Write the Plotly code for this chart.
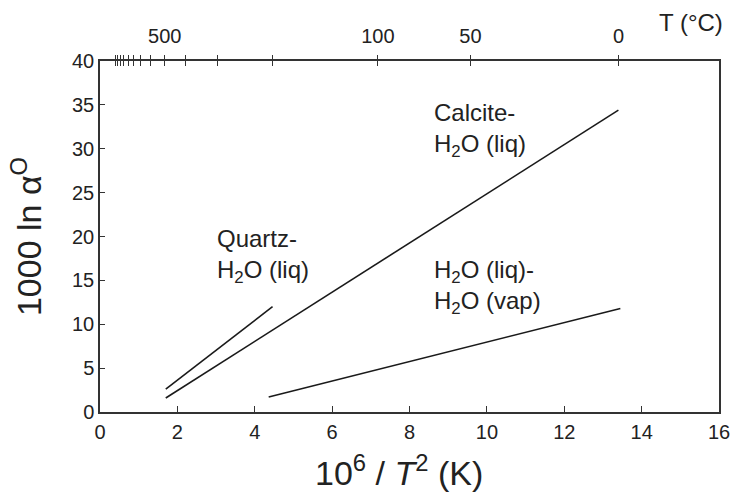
import plotly.graph_objects as go

# ---- data ----
quartz_x = [1.70, 4.46]
quartz_y = [2.6, 12.0]
calcite_x = [1.70, 13.40]
calcite_y = [1.6, 34.4]
vap_x = [4.36, 13.45]
vap_y = [1.7, 11.8]

x_ticks = [0, 2, 4, 6, 8, 10, 12, 14, 16]
y_ticks = [0, 5, 10, 15, 20, 25, 30, 35, 40]

# top temperature axis (°C)
top_T_c = [0, 50, 100, 200, 300, 400, 500, 600, 700, 800, 900, 1000, 1100, 1200, 1300]
top_T_labels = ["0", "50", "100", "", "", "", "500", "", "", "", "", "", "", "", ""]
top_pos = [1e6 / (t + 273.15) ** 2 for t in top_T_c]

labels = [
    dict(text="Quartz-<br>H<sub>2</sub>O (liq)", x=2.97, y=17.8),
    dict(text="Calcite-<br>H<sub>2</sub>O (liq)", x=8.57, y=32.1),
    dict(text="H<sub>2</sub>O (liq)-<br>H<sub>2</sub>O (vap)", x=8.57, y=14.2),
]

FONT = "Liberation Sans, Arial, Helvetica, sans-serif"
INK = "#222222"
LINE = "#1a1a1a"

fig = go.Figure()
for xs, ys in [(quartz_x, quartz_y), (calcite_x, calcite_y), (vap_x, vap_y)]:
    fig.add_trace(go.Scatter(x=xs, y=ys, mode="lines",
                             line=dict(color=LINE, width=1.6),
                             showlegend=False, hoverinfo="skip"))
# empty traces to anchor the top axes
fig.add_trace(go.Scatter(x=[None], y=[None], xaxis="x2", showlegend=False))
fig.add_trace(go.Scatter(x=[None], y=[None], xaxis="x3", showlegend=False))

axis_common = dict(showgrid=False, zeroline=False, showline=True,
                   linecolor="#333333", linewidth=1.5, tickcolor="#333333",
                   tickwidth=1.3, automargin=False)

fig.update_layout(
    width=731, height=494,
    margin=dict(l=100, r=12, t=61, b=82),
    paper_bgcolor="white", plot_bgcolor="white",
    font=dict(family=FONT, color=INK),
    xaxis=dict(range=[0, 16], tickvals=x_ticks, ticks="inside", ticklen=6,
               tickfont=dict(size=20, color=INK), ticklabelstandoff=1,
               **axis_common),
    yaxis=dict(range=[0, 40], tickvals=y_ticks, ticks="inside", ticklen=5,
               mirror=True, tickfont=dict(size=20, color=INK),
               title=dict(text="1000 ln α<sup>O</sup>",
                          font=dict(size=34, color=INK), standoff=20),
               **axis_common),
    xaxis2=dict(range=[0, 16], overlaying="x", side="top", anchor="y",
                tickvals=top_pos, ticktext=top_T_labels, ticks="outside",
                ticklen=4, tickfont=dict(size=20, color=INK),
                ticklabelstandoff=4, **axis_common),
    xaxis3=dict(range=[0, 16], overlaying="x", side="top", anchor="y",
                tickvals=top_pos, showticklabels=False, ticks="inside",
                ticklen=5, **axis_common),
)

for lab in labels:
    fig.add_annotation(x=lab["x"], y=lab["y"], xref="x", yref="y",
                       text=lab["text"], showarrow=False, xanchor="left",
                       yanchor="middle", align="left",
                       font=dict(size=24, color=INK, family=FONT))

# x-axis title (slightly left of centre, as in the reference)
fig.add_annotation(x=0.483, y=-0.166, xref="paper", yref="paper",
                   text="10<sup>6</sup> / <i>T</i><sup>2</sup> (K)",
                   showarrow=False, xanchor="center", yanchor="middle",
                   font=dict(size=34, color=INK, family=FONT))

fig.add_annotation(x=0.955, y=1.111, xref="paper", yref="paper",
                   text="T (°C)", showarrow=False, xanchor="center",
                   yanchor="middle", font=dict(size=24, color=INK, family=FONT))

fig.write_html("out.html",
               config=dict(displayModeBar=False, responsive=False),
               post_script="document.body.style.margin='0';document.body.style.overflow='hidden';")
